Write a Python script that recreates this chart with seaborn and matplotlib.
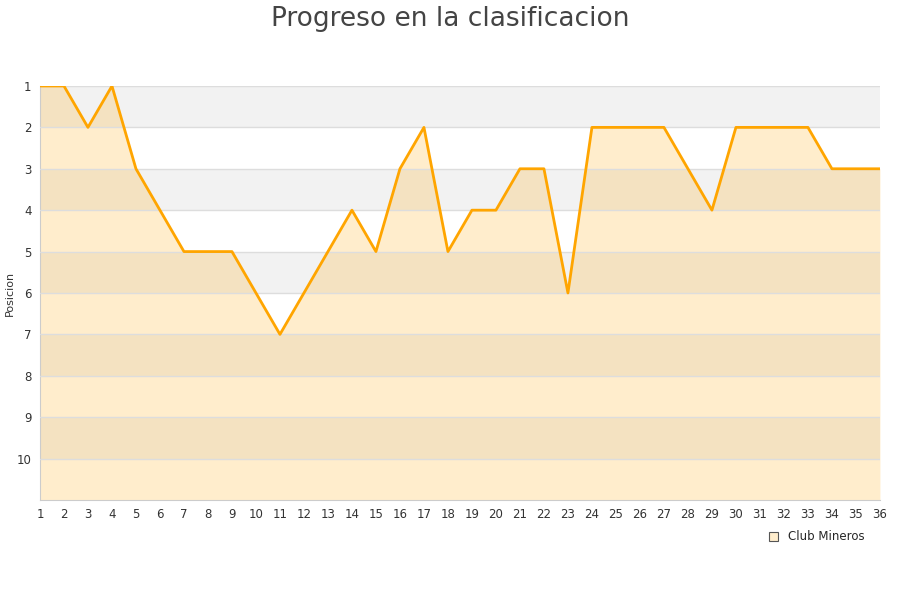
import matplotlib
matplotlib.use("Agg")
import matplotlib.pyplot as plt
from matplotlib.patches import Patch
import seaborn as sns
import pandas as pd

# datos
jornadas = list(range(1, 37))
posiciones = [1, 1, 2, 1, 3, 4, 5, 5, 5, 6, 7, 6, 5, 4, 5, 3, 2, 5, 4, 4,
              3, 3, 6, 2, 2, 2, 2, 3, 4, 2, 2, 2, 2, 3, 3, 3]
equipo = "Club Mineros"
y_ticks = list(range(1, 11))

df = pd.DataFrame({"Jornada": jornadas, "Posicion": posiciones})

sns.set_style("white")
fig = plt.figure(figsize=(9, 6), dpi=100)
ax = fig.add_axes([0.0444, 0.1667, 0.9333, 0.69])

# bandas de fondo alternas
for k in range(1, 11, 2):
    ax.axhspan(k, k + 1, color="#f2f2f2", zorder=0, lw=0)

ax.fill_between(df["Jornada"], df["Posicion"], 11, color="#ffa500", alpha=0.2, lw=0, zorder=1)
sns.lineplot(data=df, x="Jornada", y="Posicion", ax=ax, color="#ffa500", lw=2.0, zorder=3)

ax.set_xlim(1, 36)
ax.set_ylim(11, 1)
ax.set_xticks(jornadas)
ax.set_yticks(y_ticks)
ax.tick_params(axis="both", length=0, labelsize=8.5, labelcolor="#333333", pad=6)
ax.yaxis.grid(True, color="#dddddd", lw=1, zorder=2)
ax.set_axisbelow(False)
ax.set_xlabel("")
ax.set_ylabel("Posicion", fontsize=8, color="#333333")
ax.yaxis.set_label_coords(-0.03, 0.5)

for s in ["top", "right"]:
    ax.spines[s].set_visible(False)
for s in ["left", "bottom"]:
    ax.spines[s].set_color("#cccccc")

fig.suptitle("Progreso en la clasificacion", fontsize=19, color="#444444", y=0.99)

handle = Patch(facecolor="#ffedcc", edgecolor="#555555", lw=0.8)
fig.legend([handle], [equipo], loc="center right", bbox_to_anchor=(0.972, 0.105),
           frameon=False, fontsize=8.5, handlelength=0.8, handleheight=0.8)

fig.savefig("out.png", dpi=100)
